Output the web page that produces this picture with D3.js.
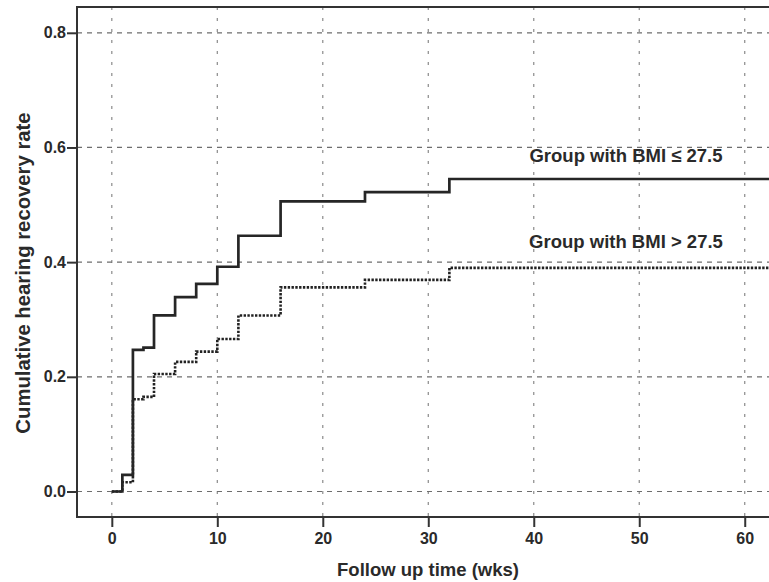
<!DOCTYPE html>
<html>
<head>
<meta charset="utf-8">
<script src="https://cdn.jsdelivr.net/npm/d3@7"></script>
<style>
  body { margin: 0; background: #fff; }
  svg { font-family: "Liberation Sans", Arial, sans-serif; font-weight: bold; }
</style>
</head>
<body>
<div id="chart"></div>
<script>
// Step data
var weeks = [0, 1, 2, 3, 4, 6, 8, 10, 12, 16, 24, 32, 70];
var lowBmi = [0, 0.029, 0.247, 0.251, 0.307, 0.339, 0.362, 0.392, 0.446, 0.506, 0.522, 0.545, 0.545];
var highBmi = [0, 0.016, 0.161, 0.165, 0.205, 0.226, 0.244, 0.266, 0.307, 0.356, 0.369, 0.390, 0.390];
var xTicks = [0, 10, 20, 30, 40, 50, 60];
var yTicks = [0.0, 0.2, 0.4, 0.6, 0.8];
var labelLow = "Group with BMI \u2264 27.5";
var labelHigh = "Group with BMI > 27.5";

var width = 769, height = 582;
var plotLeft = 77, plotTop = 7, plotBottom = 517, plotRight = 769;

var svg = d3.select("#chart")
    .append("svg")
    .attr("width", width)
    .attr("height", height);

var x = d3.scaleLinear()
    .domain([-3.3, 62.3])
    .range([plotLeft, plotRight]);

var y = d3.scaleLinear()
    .domain([-0.0445, 0.845])
    .range([plotBottom, plotTop]);

// grid lines
svg.append("g")
    .selectAll("line")
    .data(xTicks)
    .enter().append("line")
    .attr("x1", function(d) { return x(d); })
    .attr("x2", function(d) { return x(d); })
    .attr("y1", plotTop)
    .attr("y2", plotBottom)
    .attr("stroke", "#8a8a8a")
    .attr("stroke-width", 1.2)
    .attr("stroke-dasharray", "3,8");

svg.append("g")
    .selectAll("line")
    .data(yTicks)
    .enter().append("line")
    .attr("x1", plotLeft)
    .attr("x2", plotRight)
    .attr("y1", function(d) { return y(d); })
    .attr("y2", function(d) { return y(d); })
    .attr("stroke", "#6e6e6e")
    .attr("stroke-width", 1.2)
    .attr("stroke-dasharray", "5,5");

// axes
var xAxis = svg.append("g")
    .attr("transform", "translate(0," + plotBottom + ")")
    .call(d3.axisBottom(x).tickValues(xTicks).tickSize(10).tickSizeOuter(0).tickFormat(d3.format("d")));

var yAxis = svg.append("g")
    .attr("transform", "translate(" + plotLeft + ",0)")
    .call(d3.axisLeft(y).tickValues(yTicks).tickSize(10).tickSizeOuter(0).tickFormat(d3.format(".1f")));

[xAxis, yAxis].forEach(function(a) {
    a.select(".domain").remove();
    a.selectAll(".tick line").attr("stroke", "#333").attr("stroke-width", 2);
    a.selectAll(".tick text")
        .attr("fill", "#2a2a2a")
        .style("font-size", "16px")
        .style("font-weight", "bold")
        .style("font-family", "'Liberation Sans', Arial, sans-serif");
});
xAxis.selectAll(".tick text").attr("dy", "0.95em").attr("y", 12);
yAxis.selectAll(".tick text").attr("x", -11);

// clip for the curves
svg.append("clipPath")
    .attr("id", "plotClip")
    .append("rect")
    .attr("x", plotLeft)
    .attr("y", plotTop)
    .attr("width", plotRight - plotLeft)
    .attr("height", plotBottom - plotTop);

var line = d3.line()
    .x(function(d) { return x(d[0]); })
    .y(function(d) { return y(d[1]); })
    .curve(d3.curveStepAfter);

svg.append("path")
    .datum(d3.zip(weeks, highBmi))
    .attr("clip-path", "url(#plotClip)")
    .attr("fill", "none")
    .attr("stroke", "#222")
    .attr("stroke-width", 2.6)
    .attr("stroke-dasharray", "2.4,1.4")
    .attr("d", line);

svg.append("path")
    .datum(d3.zip(weeks, lowBmi))
    .attr("clip-path", "url(#plotClip)")
    .attr("fill", "none")
    .attr("stroke", "#262626")
    .attr("stroke-width", 2.7)
    .attr("d", line);

// frame
svg.append("path")
    .attr("d", "M" + (plotRight + 5) + "," + plotTop + "H" + plotLeft + "V" + plotBottom + "H" + (plotRight + 5))
    .attr("fill", "none")
    .attr("stroke", "#333")
    .attr("stroke-width", 2);

// curve labels
svg.append("text")
    .attr("x", 626)
    .attr("y", 162)
    .attr("text-anchor", "middle")
    .attr("fill", "#2a2a2a")
    .style("font-size", "18.5px")
    .text(labelLow);

svg.append("text")
    .attr("x", 626)
    .attr("y", 248)
    .attr("text-anchor", "middle")
    .attr("fill", "#2a2a2a")
    .style("font-size", "18.5px")
    .text(labelHigh);

// axis titles
svg.append("text")
    .attr("x", 428)
    .attr("y", 576)
    .attr("text-anchor", "middle")
    .attr("fill", "#2a2a2a")
    .style("font-size", "18.5px")
    .text("Follow up time (wks)");

svg.append("text")
    .attr("transform", "translate(30,273) rotate(-90)")
    .attr("text-anchor", "middle")
    .attr("fill", "#2a2a2a")
    .style("font-size", "20.3px")
    .text("Cumulative hearing recovery rate");
</script>
</body>
</html>
